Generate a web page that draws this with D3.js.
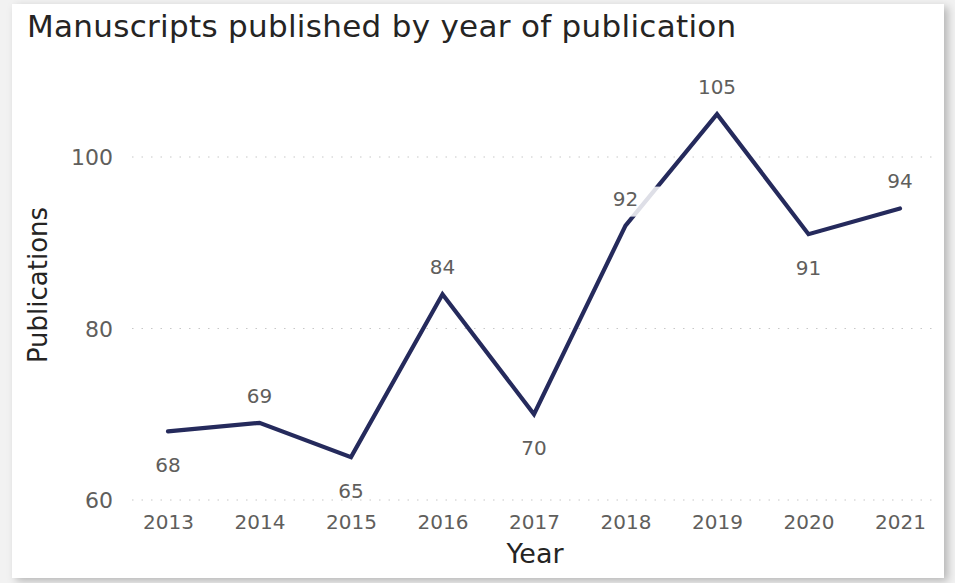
<!DOCTYPE html>
<html><head><meta charset="utf-8">
<script src="https://cdn.jsdelivr.net/npm/d3@7"></script>
<style>body{margin:0;background:#f2f2f2;}svg{display:block;}</style>
</head><body>
<svg id="c" width="955" height="583"></svg>
<script>
const years = ["2013","2014","2015","2016","2017","2018","2019","2020","2021"];
const publications = [68,69,65,84,70,92,105,91,94];
const labelPlacement = ["below","above","below","above","below","above","above","below","above"];
const yTicks = [60,80,100];

const svg = d3.select("#c");
const font = "'DejaVu Sans', Verdana, sans-serif";

// card with shadow
const defs = svg.append("defs");
const f = defs.append("filter").attr("id","sh").attr("x","-5%").attr("y","-5%").attr("width","110%").attr("height","110%");
f.append("feDropShadow").attr("dx",4).attr("dy",3).attr("stdDeviation",4).attr("flood-color","#000").attr("flood-opacity",0.25);
svg.append("rect").attr("x",12).attr("y",4).attr("width",932).attr("height",574).attr("fill","#fff").attr("filter","url(#sh)");

const x = d3.scalePoint().domain(years).range([168, 900]);
const y = d3.scaleLinear().domain([60,100]).range([500,157]);

// gridlines
svg.append("g").selectAll("line").data(yTicks).join("line")
  .attr("x1",132).attr("x2",932).attr("y1",d=>y(d)).attr("y2",d=>y(d))
  .attr("stroke","#c8c8c8").attr("stroke-width",1.2).attr("stroke-dasharray","1.5,8");

// y axis labels
const yAxis = d3.axisLeft(y).tickValues(yTicks).tickSize(0).tickPadding(0);
const gy = svg.append("g").attr("transform","translate(113,0)").call(yAxis);
gy.select(".domain").remove();
gy.selectAll("text").attr("font-family",font).attr("font-size",22).attr("fill","#605e5c").attr("dy","0.36em");

// x axis labels
const xAxis = d3.axisBottom(x).tickSize(0).tickPadding(0);
const gx = svg.append("g").attr("transform","translate(0,529)").call(xAxis);
gx.select(".domain").remove();
gx.selectAll("text").attr("font-family",font).attr("font-size",20).attr("fill","#605e5c").attr("dy",0).attr("y",0);

// line
const data = years.map((yr,i)=>({yr, v:publications[i], pos:labelPlacement[i]}));
svg.append("path").datum(data)
  .attr("fill","none").attr("stroke","#252a5c").attr("stroke-width",4.2)
  .attr("stroke-linejoin","miter").attr("stroke-linecap","round")
  .attr("d", d3.line().x(d=>x(d.yr)).y(d=>y(d.v)));

// labels
const lg = svg.append("g");
data.forEach(d=>{
  const ly = d.pos==="above" ? y(d.v)-20 : y(d.v)+41;
  if (d.yr==="2018") {
    lg.append("rect").attr("x",x(d.yr)-35).attr("y",y(d.v)-39).attr("width",70).attr("height",30)
      .attr("fill","#fff").attr("opacity",0.85);
  }
  lg.append("text").attr("x",x(d.yr)).attr("y",ly).attr("text-anchor","middle")
    .attr("font-family",font).attr("font-size",20).attr("fill","#605e5c").text(d.v);
});

// titles
svg.append("text").attr("x",27).attr("y",37).attr("font-family",font).attr("font-size",31)
  .attr("letter-spacing",0.3).attr("fill","#252423").text("Manuscripts published by year of publication");
svg.append("text").attr("x",535).attr("y",563).attr("text-anchor","middle").attr("font-family",font)
  .attr("font-size",27).attr("fill","#252423").text("Year");
svg.append("text").attr("transform","translate(47,285) rotate(-90)").attr("text-anchor","middle")
  .attr("font-family",font).attr("font-size",26).attr("fill","#252423").text("Publications");
</script>
</body></html>
